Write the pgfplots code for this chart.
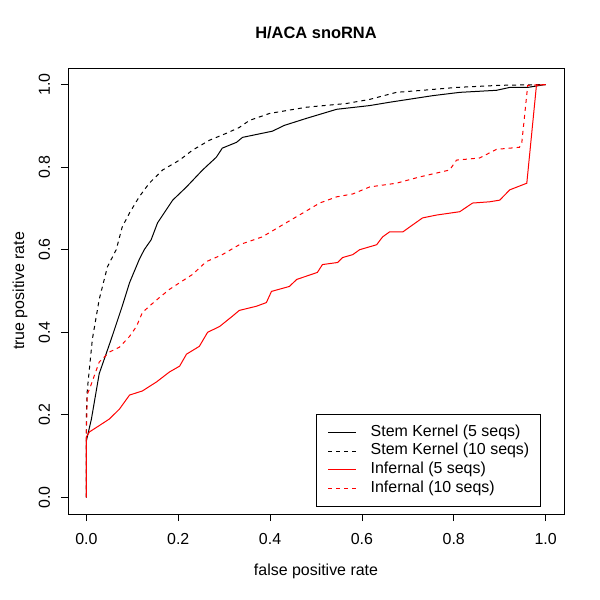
\documentclass[border=0pt]{standalone}
\usepackage{pgfplots}
\pgfplotsset{compat=1.18}
\usepackage{fontspec}
\setmainfont{Liberation Sans}

\begin{document}
\begin{tikzpicture}
\begin{axis}[
    at={(0,0)}, anchor=south west,
    scale only axis,
    width=496bp, height=446bp,
    xmin=-0.04, xmax=1.04, ymin=-0.04, ymax=1.04,
    xtick={0,0.2,...,1}, ytick={0,0.2,...,1},
    xticklabel pos=bottom, yticklabel pos=left,
    xtick pos=bottom, ytick pos=left,
    tick align=outside,
    major tick length=7bp,
    every tick/.style={black, line width=0.8bp},
    axis line style={line width=0.8bp},
    font=\fontsize{16}{19}\selectfont,
    /pgf/number format/assume math mode=true,
    /pgf/number format/fixed, /pgf/number format/fixed zerofill,
    /pgf/number format/precision=1,
    xticklabel style={anchor=base, inner sep=0pt, yshift=-23bp},
    yticklabel style={xshift=-11bp, rotate=90, anchor=base, inner sep=0pt},
    title={\textbf{H/ACA snoRNA}},
    title style={at={(0.5,1.0538)}, anchor=base, font=\fontsize{16.5}{19}\selectfont},
    xlabel={false positive rate},
    xlabel style={at={(0.5,-0.139)}, anchor=base},
    ylabel={true positive rate},
    ylabel style={at={(-0.0887,0.5)}, anchor=base},
    legend cell align=left,
    legend style={at={(0.954,0.0157)}, anchor=south east, draw=black,
        line width=0.8bp, inner xsep=11.5bp, inner ysep=8.6bp,
        row sep=0bp,
        /tikz/every odd column/.append style={column sep=14bp},
        font=\fontsize{16}{19}\selectfont,
        nodes={inner xsep=0bp, inner ysep=1.85bp, text height=11bp, text depth=4bp}},
    legend image code/.code={\draw[#1] (0bp,0bp) -- (28bp,0bp);},
]
\addplot[black, line width=1bp] coordinates {
(0,0) (0,0.137) (0.011,0.19) (0.028,0.3) (0.054,0.383) (0.078,0.463) (0.094,0.52)
(0.115,0.576) (0.126,0.6) (0.141,0.624) (0.155,0.665) (0.188,0.72) (0.218,0.752)
(0.253,0.793) (0.283,0.824) (0.296,0.846) (0.327,0.86) (0.34,0.872) (0.405,0.887)
(0.431,0.901) (0.479,0.918) (0.545,0.94) (0.617,0.949) (0.66,0.957) (0.754,0.973)
(0.813,0.981) (0.893,0.986) (0.922,0.993) (0.961,0.993) (1,1)};
\addlegendentry{Stem Kernel (5 seqs)}
\addplot[black, line width=1bp, dash pattern=on 4bp off 4bp] coordinates {
(0,0) (0,0.2) (0.002,0.26) (0.013,0.383) (0.028,0.48) (0.046,0.559) (0.065,0.6)
(0.078,0.655) (0.094,0.689) (0.115,0.728) (0.137,0.761) (0.166,0.793) (0.203,0.817)
(0.231,0.841) (0.268,0.865) (0.305,0.882) (0.333,0.896) (0.355,0.913) (0.399,0.93)
(0.479,0.945) (0.566,0.954) (0.617,0.964) (0.675,0.981) (0.732,0.986) (0.806,0.993)
(0.9,0.998) (1,1)};
\addlegendentry{Stem Kernel (10 seqs)}
\addplot[red, line width=1bp] coordinates {
(0,0) (0,0.147) (0.007,0.159) (0.028,0.174) (0.05,0.19) (0.072,0.214) (0.094,0.248)
(0.122,0.258) (0.153,0.28) (0.181,0.304) (0.203,0.318) (0.218,0.347) (0.246,0.366)
(0.264,0.4) (0.29,0.414) (0.318,0.439) (0.333,0.453) (0.37,0.463) (0.392,0.472)
(0.403,0.499) (0.442,0.511) (0.458,0.528) (0.503,0.545) (0.514,0.564) (0.547,0.569)
(0.558,0.581) (0.58,0.588) (0.595,0.6) (0.632,0.612) (0.645,0.631) (0.66,0.643)
(0.689,0.643) (0.704,0.655) (0.732,0.677) (0.763,0.684) (0.813,0.692) (0.841,0.713)
(0.878,0.716) (0.9,0.72) (0.922,0.745) (0.959,0.761) (0.98,0.998) (1,1)};
\addlegendentry{Infernal (5 seqs)}
\addplot[red, line width=1bp, dash pattern=on 4bp off 4bp] coordinates {
(0,0) (0,0.15) (0.002,0.25) (0.007,0.263) (0.028,0.328) (0.05,0.352) (0.072,0.364)
(0.094,0.39) (0.109,0.414) (0.122,0.448) (0.141,0.467) (0.159,0.484) (0.181,0.504)
(0.203,0.52) (0.231,0.54) (0.261,0.571) (0.296,0.588) (0.333,0.612) (0.383,0.631)
(0.427,0.66) (0.464,0.684) (0.508,0.713) (0.545,0.728) (0.58,0.735) (0.617,0.752)
(0.675,0.761) (0.725,0.776) (0.791,0.793) (0.806,0.817) (0.856,0.822) (0.893,0.843)
(0.943,0.848) (0.948,0.858) (0.961,0.998) (1,1)};
\addlegendentry{Infernal (10 seqs)}
\end{axis}
\pgfresetboundingbox
\path[use as bounding box] (-68bp,-86bp) rectangle (532bp,514bp);
\end{tikzpicture}
\end{document}
